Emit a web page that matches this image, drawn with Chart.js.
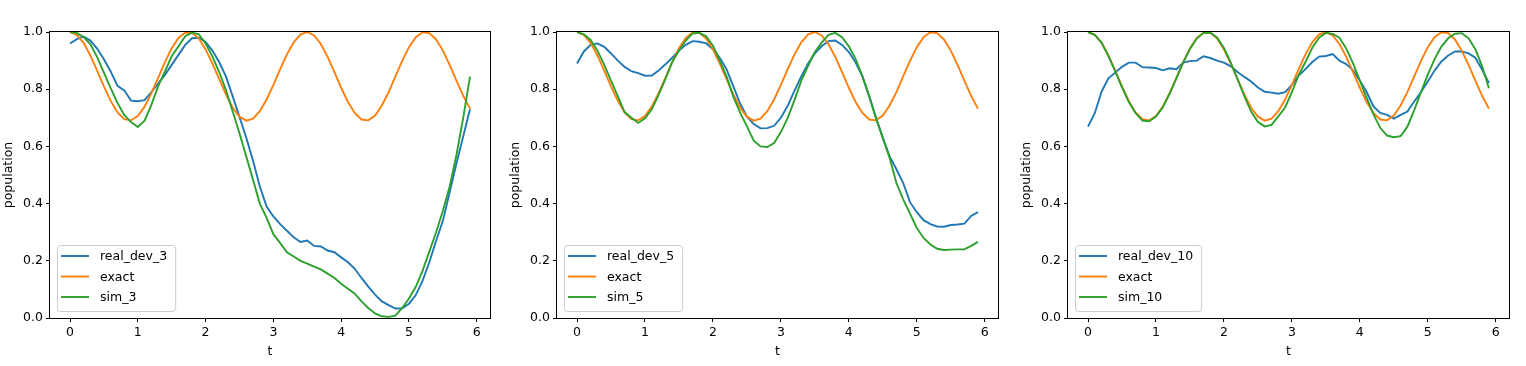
<!DOCTYPE html>
<html>
<head>
<meta charset="utf-8">
<script src="https://cdn.jsdelivr.net/npm/chart.js@4.4.1/dist/chart.umd.min.js"></script>
<style>
  body { margin: 0; background: #fff; }
  #wrap { position: relative; width: 1526px; height: 366px; }
  canvas { position: absolute; top: 0; }
</style>
</head>
<body>
<div id="wrap">
  <canvas id="c3" width="500" height="366" style="left:0px"></canvas>
  <canvas id="c5" width="501" height="366" style="left:507px"></canvas>
  <canvas id="c10" width="501" height="366" style="left:1018px"></canvas>
</div>
<script>
// time points
var t = [0.0,0.1,0.2,0.3,0.4,0.5,0.6,0.7,0.8,0.9,1.0,1.1,1.2,1.3,1.4,1.5,1.6,1.7,1.8,1.9,
         2.0,2.1,2.2,2.3,2.4,2.5,2.6,2.7,2.8,2.9,3.0,3.1,3.2,3.3,3.4,3.5,3.6,3.7,3.8,3.9,
         4.0,4.1,4.2,4.3,4.4,4.5,4.6,4.7,4.8,4.9,5.0,5.1,5.2,5.3,5.4,5.5,5.6,5.7,5.8,5.9]
var xTickValues = [0, 1, 2, 3, 4, 5, 6]

var exact = [1.000,0.990,0.962,0.918,0.865,0.810,0.759,0.719,0.695,0.691,0.706,0.739,0.786,0.840,0.895,0.943,0.979,0.998,0.997,0.977,
             0.939,0.890,0.835,0.782,0.735,0.704,0.690,0.697,0.723,0.764,0.815,0.870,0.922,0.964,0.992,1.000,0.988,0.958,0.913,0.860,
             0.805,0.755,0.717,0.694,0.691,0.708,0.743,0.790,0.845,0.899,0.947,0.982,0.999,0.996,0.974,0.935,0.885,0.830,0.777,0.732]

var realDev3 = [0.960,0.975,0.984,0.970,0.942,0.905,0.862,0.812,0.796,0.760,0.758,0.762,0.790,0.820,0.850,0.885,0.920,0.955,0.978,0.980,
                0.965,0.935,0.895,0.845,0.775,0.703,0.630,0.550,0.460,0.390,0.355,0.328,0.305,0.282,0.266,0.271,0.252,0.250,0.236,0.230,
                0.212,0.195,0.172,0.140,0.110,0.082,0.058,0.045,0.033,0.034,0.050,0.080,0.130,0.195,0.270,0.340,0.440,0.540,0.635,0.730]
var sim3 = [1.000,0.997,0.982,0.958,0.912,0.858,0.804,0.752,0.710,0.685,0.668,0.690,0.745,0.810,0.862,0.915,0.950,0.985,0.998,0.992,
            0.960,0.915,0.860,0.797,0.722,0.646,0.565,0.483,0.400,0.350,0.293,0.262,0.230,0.215,0.200,0.190,0.180,0.170,0.155,0.140,
            0.120,0.102,0.085,0.058,0.035,0.016,0.006,0.004,0.008,0.035,0.068,0.109,0.165,0.232,0.300,0.375,0.460,0.570,0.700,0.844]

var realDev5 = [0.890,0.932,0.955,0.960,0.948,0.925,0.900,0.878,0.863,0.856,0.847,0.848,0.865,0.887,0.910,0.935,0.955,0.968,0.966,0.960,
                0.940,0.910,0.870,0.810,0.750,0.704,0.678,0.663,0.664,0.672,0.700,0.742,0.795,0.845,0.890,0.925,0.950,0.968,0.970,0.955,
                0.930,0.893,0.845,0.775,0.700,0.630,0.565,0.520,0.472,0.405,0.370,0.342,0.328,0.320,0.319,0.325,0.327,0.330,0.357,0.370]
var sim5 = [1.000,0.992,0.972,0.935,0.885,0.830,0.775,0.720,0.700,0.682,0.698,0.730,0.780,0.835,0.895,0.935,0.970,0.995,0.997,0.985,
            0.952,0.900,0.845,0.774,0.718,0.670,0.620,0.600,0.598,0.612,0.650,0.700,0.762,0.830,0.882,0.930,0.963,0.990,0.997,0.982,
            0.950,0.905,0.845,0.775,0.698,0.630,0.560,0.472,0.415,0.365,0.315,0.280,0.257,0.242,0.238,0.239,0.240,0.240,0.252,0.266]

var realDev10 = [0.669,0.717,0.792,0.838,0.858,0.878,0.893,0.893,0.877,0.876,0.874,0.866,0.873,0.870,0.893,0.898,0.900,0.915,0.909,0.900,
                 0.893,0.880,0.860,0.843,0.827,0.806,0.791,0.788,0.784,0.790,0.815,0.848,0.870,0.895,0.914,0.916,0.923,0.900,0.888,0.866,
                 0.830,0.790,0.740,0.717,0.710,0.697,0.710,0.722,0.757,0.790,0.827,0.865,0.897,0.918,0.932,0.932,0.925,0.910,0.868,0.822]
var sim10 = [1.000,0.990,0.962,0.916,0.862,0.806,0.755,0.716,0.690,0.688,0.704,0.737,0.784,0.838,0.893,0.941,0.977,0.997,0.998,0.980,
             0.944,0.893,0.835,0.776,0.722,0.685,0.670,0.675,0.705,0.736,0.790,0.850,0.895,0.945,0.980,0.997,0.993,0.980,0.942,0.890,
             0.830,0.770,0.712,0.665,0.638,0.632,0.636,0.669,0.727,0.790,0.851,0.905,0.949,0.978,0.994,0.996,0.978,0.940,0.880,0.803]

var FONT_FAMILY = "'DejaVu Sans', sans-serif"
var FONT_SIZE = 12.5

function toPoints(ys) {
  return ys.map(function (y, i) { return { x: t[i], y: y } })
}

// spines on all four sides + matplotlib style legend inside the axes
var mplPlugin = {
  id: 'mplPlugin',
  afterDatasetsDraw: function (chart) {
    var ctx = chart.ctx, a = chart.chartArea
    ctx.save()
    ctx.strokeStyle = '#000'
    ctx.lineWidth = 1
    ctx.strokeRect(Math.round(a.left) - 0.5, Math.round(a.top) - 0.5,
                   Math.round(a.right) - Math.round(a.left) + 1, Math.round(a.bottom) - Math.round(a.top) + 1)
    ctx.restore()
  },
  afterDraw: function (chart) {
    var ctx = chart.ctx, a = chart.chartArea
    var sets = chart.data.datasets
    ctx.save()
    ctx.font = FONT_SIZE + 'px ' + FONT_FAMILY
    var textW = Math.max.apply(null, sets.map(function (d) { return ctx.measureText(d.label).width }))
    var boxL = Math.round(a.left) + 7
    var boxH = 66
    var boxT = Math.round(a.bottom) - 7 - boxH
    var boxW = 43 + textW + 8
    ctx.beginPath()
    if (ctx.roundRect) ctx.roundRect(boxL + 0.5, boxT + 0.5, boxW, boxH, 3)
    else ctx.rect(boxL + 0.5, boxT + 0.5, boxW, boxH)
    ctx.fillStyle = 'rgba(255,255,255,0.8)'
    ctx.fill()
    ctx.strokeStyle = '#cccccc'
    ctx.lineWidth = 1
    ctx.stroke()
    sets.forEach(function (d, i) {
      var y = boxT + 11 + i * 20.5
      ctx.strokeStyle = d.borderColor
      ctx.lineWidth = 1.9
      ctx.beginPath()
      ctx.moveTo(boxL + 4, y)
      ctx.lineTo(boxL + 32, y)
      ctx.stroke()
      ctx.fillStyle = '#000'
      ctx.textBaseline = 'middle'
      ctx.fillText(d.label, boxL + 43, y + 1)
    })
    ctx.restore()
  }
}

function makePanel(id, realLabel, realData, simLabel, simData) {
  var ctx = document.getElementById(id).getContext('2d')
  var font = { family: FONT_FAMILY, size: FONT_SIZE }
  return new Chart(ctx, {
    type: 'line',
    data: {
      datasets: [
        { label: realLabel, data: toPoints(realData), borderColor: '#1f77b4', order: 3 },
        { label: 'exact', data: toPoints(exact), borderColor: '#ff7f0e', order: 2 },
        { label: simLabel, data: toPoints(simData), borderColor: '#2ca02c', order: 1 }
      ]
    },
    options: {
      responsive: false,
      devicePixelRatio: 1,
      animation: false,
      layout: { padding: { top: 32, right: 10, left: 0, bottom: 0 } },
      elements: {
        line: { borderWidth: 1.9, tension: 0, fill: false },
        point: { radius: 0 }
      },
      plugins: { legend: { display: false }, tooltip: { enabled: false } },
      scales: {
        x: {
          type: 'linear',
          min: -0.295,
          max: 6.195,
          afterBuildTicks: function (scale) {
            scale.ticks = xTickValues.map(function (v) { return { value: v } })
          },
          afterFit: function (scale) { scale.height = 48 },
          border: { display: false },
          grid: { drawOnChartArea: false, drawTicks: true, tickLength: 4, color: '#000', lineWidth: 1 },
          ticks: { color: '#000', font: font, padding: 3, maxRotation: 0,
                   callback: function (v) { return String(v) } },
          title: { display: true, text: 't', color: '#000', font: font, padding: { top: 0, bottom: 7 } }
        },
        y: {
          min: 0,
          max: 1,
          afterFit: function (scale) { scale.width = 50 },
          border: { display: false },
          grid: { drawOnChartArea: false, drawTicks: true, tickLength: 4, color: '#000', lineWidth: 1 },
          ticks: { color: '#000', font: font, padding: 3, stepSize: 0.2,
                   callback: function (v) { return v.toFixed(1) } },
          title: { display: true, text: 'population', color: '#000', font: font, padding: { top: 1.5, bottom: 0 } }
        }
      }
    },
    plugins: [mplPlugin]
  })
}

makePanel('c3', 'real_dev_3', realDev3, 'sim_3', sim3)
makePanel('c5', 'real_dev_5', realDev5, 'sim_5', sim5)
makePanel('c10', 'real_dev_10', realDev10, 'sim_10', sim10)
</script>
</body>
</html>
